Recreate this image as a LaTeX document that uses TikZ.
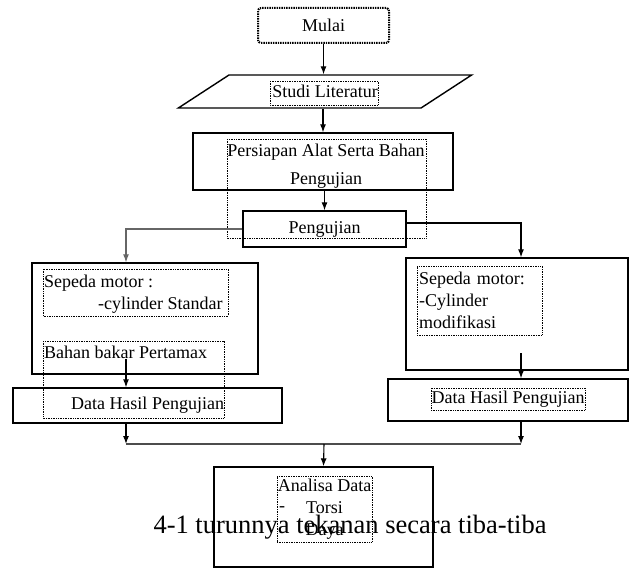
\documentclass[tikz,border=0pt]{standalone}
\usepackage{fontspec}
\setmainfont{Liberation Serif}
\usetikzlibrary{shapes.geometric,arrows.meta,calc}
\newcommand{\boxfont}{\fontsize{18}{22}\selectfont}

\begin{document}
\begin{tikzpicture}[x=1pt, y=-1pt,
    box/.style={draw, line width=1.4pt, inner sep=0pt, font=\boxfont},
    txt/.style={inner sep=0pt, font=\boxfont},
    txtframe/.style={draw, densely dotted, line width=0.7pt},
    arr/.style={->, >={Latex[length=8pt, width=6pt]}, line width=1.1pt}
]
    \useasboundingbox (0,0) rectangle (631,569);

    % Boxes
    \node[box, densely dotted, line width=2pt, rounded corners=3pt, minimum width=131pt, minimum height=35pt] (mulai) at (323.5,25.5) {Mulai};
    \node[box, trapezium, trapezium left angle=30, trapezium right angle=150, trapezium stretches=true, inner sep=2pt, minimum width=294pt, minimum height=33pt] (studi) at (325,91.5) {Studi Literatur};
    \draw[txtframe] (270,81) rectangle (378,105);
    \node[box, minimum width=260pt, minimum height=57pt] (siap) at (323,161.5) {};
    \node[txt, align=center] (siapT) at (326,166) {Persiapan Alat Serta Bahan\\[6pt]Pengujian};
    \draw[txtframe] (227,139) rectangle (426,238);
    \node[box, minimum width=163pt, minimum height=36pt] (uji) at (324.5,229) {Pengujian};

    % Left branch
    \node[box, minimum width=226pt, minimum height=111pt] (kiri) at (145,318.5) {};
    \draw[txtframe] (43,269) rectangle (228,316);
    \node[txt, anchor=west] (motorL) at (44,283) {Sepeda motor :};
    \node[txt, anchor=west] (silL) at (98,305) {-cylinder Standar};
    \draw[txtframe] (43,341) rectangle (224,418);
    \node[txt, anchor=west] (bahan) at (44,352) {Bahan bakar Pertamax};
    \node[box, minimum width=269pt, minimum height=35pt] (dataL) at (147.5,405.5) {Data Hasil Pengujian};

    % Right branch
    \node[box, minimum width=222pt, minimum height=112pt] (kanan) at (517,314) {};
    \node[txt, txtframe, text width=121pt, inner xsep=2pt, minimum height=69pt, align=left] (motorR) at (479.5,300.5) {Sepeda motor:\\-Cylinder\\modifikasi};
    \node[box, minimum width=240pt, minimum height=42pt] (dataR) at (508,400) {};
    \node[txt, txtframe, minimum width=154pt, minimum height=22pt] (dataRT) at (508,399) {Data Hasil Pengujian};

    % Result
    \node[box, minimum width=219pt, minimum height=100pt] (analisa) at (323.5,517) {};
    \node[txt, txtframe, minimum width=95pt, minimum height=66pt, align=center] (isi) at (324.5,509) {Analisa Data\\Torsi\\Daya};
    \node[txt, anchor=west] (strip) at (279,509) {-};

    % Arrows
    \coordinate (colL) at (126,0);
    \coordinate (colR) at (521,0);
    \coordinate (join) at (324,444);
    \draw[arr] (mulai) -- (mulai |- studi.north);
    \draw[arr] (siap.north |- studi.south) -- (siap.north);
    \draw[arr] (siap.south -| uji.north) -- (uji.north);
    \draw[arr, black!60] (uji.west) -| (colL |- kiri.north);
    \draw[arr] ($(uji.east)+(0,-6)$) -| (colR |- kanan.north);
    \draw[arr] (bahan.south -| colL) -- (colL |- dataL.north);
    \draw[arr] ($(colR |- motorR.south)+(0,18)$) -- (colR |- dataR.north);
    \draw[arr] (dataL.south -| colL) -- (colL |- join);
    \draw[arr] (dataR.south -| colR) -- (colR |- join);
    \draw[line width=1.1pt, black!70] (colL |- join) -- (colR |- join);
    \draw[arr] (join) -- (analisa.north);

    % Caption
    \node[font=\fontsize{26.5}{30}\selectfont, inner sep=0pt] (judul) at (350,527) {4-1 turunnya tekanan secara tiba-tiba};
\end{tikzpicture}
\end{document}
